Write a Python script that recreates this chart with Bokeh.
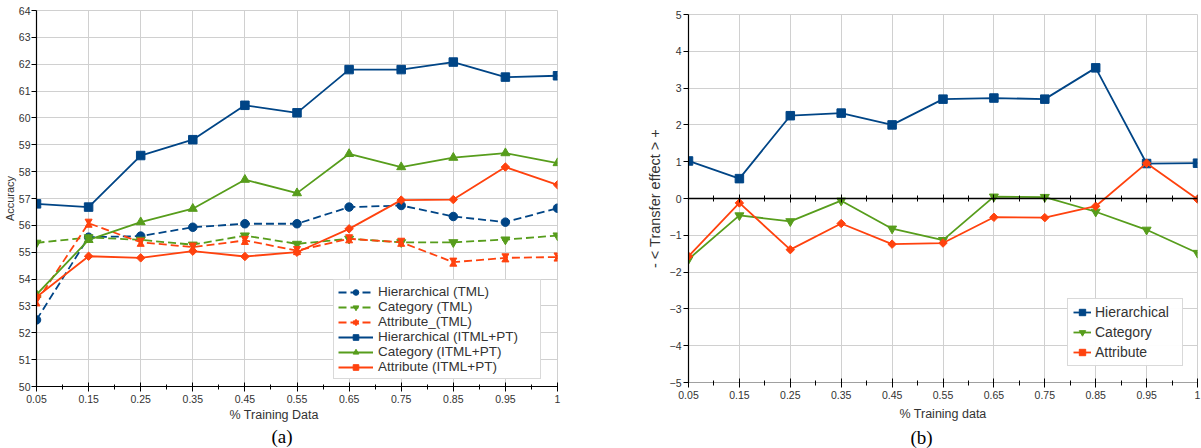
import numpy as np
from bokeh.plotting import figure
from bokeh.layouts import row, column
from bokeh.models import (FixedTicker, Legend, LegendItem, ColumnDataSource, Range1d,
                          LinearAxis, Title)
from bokeh.transform import dodge
from bokeh.embed import file_html
from bokeh.resources import INLINE

# ---------------- data ----------------
train_labels = ["0.05", "0.15", "0.25", "0.35", "0.45", "0.55", "0.65", "0.75", "0.85", "0.95", "1"]

# (a) Accuracy
hier_tml = [52.48, 55.56, 55.60, 55.93, 56.06, 56.06, 56.68, 56.74, 56.33, 56.12, 56.64]
cat_tml = [55.35, 55.55, 55.46, 55.28, 55.62, 55.31, 55.50, 55.37, 55.37, 55.47, 55.62]
attr_tml = [53.15, 56.08, 55.37, 55.19, 55.44, 55.06, 55.50, 55.37, 54.63, 54.79, 54.82]
hier_itml = [56.80, 56.68, 58.60, 59.19, 60.47, 60.19, 61.80, 61.80, 62.08, 61.52, 61.57]
cat_itml = [53.42, 55.46, 56.12, 56.62, 57.70, 57.20, 58.66, 58.17, 58.52, 58.69, 58.32]
attr_itml = [53.33, 54.85, 54.79, 55.04, 54.84, 55.00, 55.87, 56.94, 56.96, 58.17, 57.51]

# (b) Transfer effect
hier_te = [1.02, 0.54, 2.25, 2.32, 2.00, 2.70, 2.73, 2.70, 3.55, 0.95, 0.96]
cat_te = [-1.65, -0.46, -0.62, -0.06, -0.82, -1.13, 0.05, 0.04, -0.36, -0.85, -1.48]
attr_te = [-1.57, -0.12, -1.39, -0.68, -1.24, -1.21, -0.51, -0.52, -0.21, 0.96, -0.02]

BLUE = "#004586"
GREEN = "#579d1c"
ORANGE = "#ff420e"
FONT = "Liberation Sans"
GRID = "#d0d0d0"
TXT = "#333333"

xs = list(range(len(train_labels)))
overrides = {i: lab for i, lab in enumerate(train_labels)}
minor = [i + 0.5 for i in range(len(train_labels) - 1)]


def base_style(p, yticks):
    p.xaxis.ticker = FixedTicker(ticks=xs, minor_ticks=minor)
    p.xaxis.major_label_overrides = overrides
    p.yaxis.ticker = FixedTicker(ticks=yticks)
    p.xgrid.ticker = FixedTicker(ticks=xs)
    p.ygrid.ticker = FixedTicker(ticks=yticks)
    for g in (p.xgrid, p.ygrid):
        g.grid_line_color = GRID
        g.grid_line_width = 1
    p.outline_line_color = GRID
    p.background_fill_color = "white"
    p.border_fill_color = "white"
    for ax in (p.xaxis, p.yaxis):
        ax.axis_line_color = "black"
        ax.axis_line_width = 1.2
        ax.major_tick_line_color = "black"
        ax.minor_tick_line_color = "black"
        ax.major_label_text_font = FONT
        ax.major_label_text_font_size = "10.5px"
        ax.major_label_text_color = TXT
        ax.axis_label_text_font = FONT
        ax.axis_label_text_font_style = "normal"
        ax.axis_label_text_color = TXT
    p.yaxis.major_tick_out = 5
    p.yaxis.major_tick_in = 0
    p.yaxis.minor_tick_out = 0
    p.yaxis.minor_tick_in = 0
    p.xaxis.major_tick_out = 5
    p.xaxis.major_tick_in = 4
    p.xaxis.minor_tick_out = 3
    p.xaxis.minor_tick_in = 2
    p.xaxis.major_label_standoff = 3


def series(p, y, color, marker, size, dash="solid", angle=0.0, hg=0.0):
    src = ColumnDataSource(dict(x=xs, y=y))
    ln = p.line("x", "y", source=src, line_color=color, line_width=1.8, line_dash=dash)
    if marker == "hourglass":
        a = p.scatter("x", dodge("y", hg), source=src, marker="inverted_triangle", size=size,
                      fill_color=color, line_color=color)
        b = p.scatter("x", dodge("y", -hg), source=src, marker="triangle", size=size,
                      fill_color=color, line_color=color)
        return [ln, a, b]
    sc = p.scatter("x", "y", source=src, marker=marker, size=size, angle=angle,
                   fill_color=color, line_color=color)
    return [ln, sc]


# ---------------- (a) ----------------
p1 = figure(width=600, height=448, x_range=Range1d(0, 10), y_range=Range1d(50, 64),
            output_backend="svg", toolbar_location=None,
            min_border_left=35, min_border_right=43, min_border_top=10, min_border_bottom=62)
base_style(p1, list(range(50, 65)))
p1.yaxis.axis_label = "Accuracy"
p1.yaxis.axis_label_text_font_size = "11px"
p1.yaxis.axis_label_standoff = 0
p1.yaxis.major_label_standoff = 1

DASH = "8 4"
r_ht = series(p1, hier_tml, BLUE, "circle", 8.5, dash=DASH)
r_ct = series(p1, cat_tml, GREEN, "inverted_triangle", 9, dash=DASH)
r_at = series(p1, attr_tml, ORANGE, "hourglass", 7, dash=DASH, hg=0.075)
r_hi = series(p1, hier_itml, BLUE, "square", 8.5)
r_ci = series(p1, cat_itml, GREEN, "triangle", 9)
r_ai = series(p1, attr_itml, ORANGE, "square", 6, angle=np.pi / 4)

leg1 = Legend(items=[
    LegendItem(label="Hierarchical (TML)", renderers=r_ht),
    LegendItem(label="Category (TML)", renderers=r_ct),
    LegendItem(label="Attribute_(TML)", renderers=r_at),
    LegendItem(label="Hierarchical (ITML+PT)", renderers=r_hi),
    LegendItem(label="Category (ITML+PT)", renderers=r_ci),
    LegendItem(label="Attribute (ITML+PT)", renderers=r_ai),
], location=(297, 7))
leg1.label_text_font = FONT
leg1.label_text_font_size = "13.5px"
leg1.label_text_color = TXT
leg1.glyph_width = 35
leg1.glyph_height = 14
leg1.label_height = 14
leg1.label_width = 158
leg1.spacing = 0
leg1.padding = 4
leg1.margin = 0
leg1.label_standoff = 5
leg1.border_line_color = "#b3b3b3"
leg1.background_fill_alpha = 1
p1.add_layout(leg1)

p1.add_layout(Title(text="% Training Data", align="left", offset=193, standoff=1,
                    text_font=FONT, text_font_size="12.5px", text_font_style="normal",
                    text_color=TXT), "below")
p1.add_layout(Title(text="(a)", align="left", offset=235, standoff=2,
                    text_font="Liberation Serif", text_font_size="19px",
                    text_font_style="normal", text_color="black"), "below")

# ---------------- (b) ----------------
p2 = figure(width=601, height=448, x_range=Range1d(0, 10), y_range=Range1d(-5, 5),
            output_backend="svg", toolbar_location=None,
            min_border_left=88, min_border_right=4, min_border_top=14, min_border_bottom=66)
base_style(p2, list(range(-5, 6)))
p2.xaxis.axis_line_color = "#a0a0a0"
p2.xaxis.axis_label = "% Training data"
p2.xaxis.axis_label_text_font_size = "12.5px"
p2.xaxis.axis_label_standoff = 5
p2.yaxis.axis_label = "- < Transfer effect > +"
p2.yaxis.axis_label_text_font_size = "14.5px"
p2.yaxis.axis_label_standoff = 4
p2.yaxis.major_label_standoff = 2

zero_axis = LinearAxis(fixed_location=0, ticker=FixedTicker(ticks=xs, minor_ticks=minor),
                       major_label_overrides={i: "" for i in xs})
zero_axis.axis_line_color = "black"
zero_axis.axis_line_width = 1.5
zero_axis.major_tick_in = 4
zero_axis.major_tick_out = 4
zero_axis.minor_tick_in = 3
zero_axis.minor_tick_out = 3
zero_axis.major_label_text_font_size = "1px"
p2.add_layout(zero_axis, "below")

r_h = series(p2, hier_te, BLUE, "square", 8.5)
r_c = series(p2, cat_te, GREEN, "inverted_triangle", 9)
r_a = series(p2, attr_te, ORANGE, "square", 6, angle=np.pi / 4)

leg2 = Legend(items=[
    LegendItem(label="Hierarchical", renderers=r_h),
    LegendItem(label="Category", renderers=r_c),
    LegendItem(label="Attribute", renderers=r_a),
], location=(379, 16))
leg2.label_text_font = FONT
leg2.label_text_font_size = "14px"
leg2.label_text_color = TXT
leg2.glyph_width = 18
leg2.glyph_height = 16
leg2.label_height = 16
leg2.label_width = 82
leg2.spacing = 4
leg2.padding = 5
leg2.margin = 0
leg2.label_standoff = 4
leg2.border_line_color = "#b3b3b3"
p2.add_layout(leg2)

p2.add_layout(Title(text="(b)", align="left", offset=222, standoff=2,
                    text_font="Liberation Serif", text_font_size="19px",
                    text_font_style="normal", text_color="black"), "below")

layout = row(column(p1), column(p2))
open("out.html", "w").write(file_html(layout, INLINE))
